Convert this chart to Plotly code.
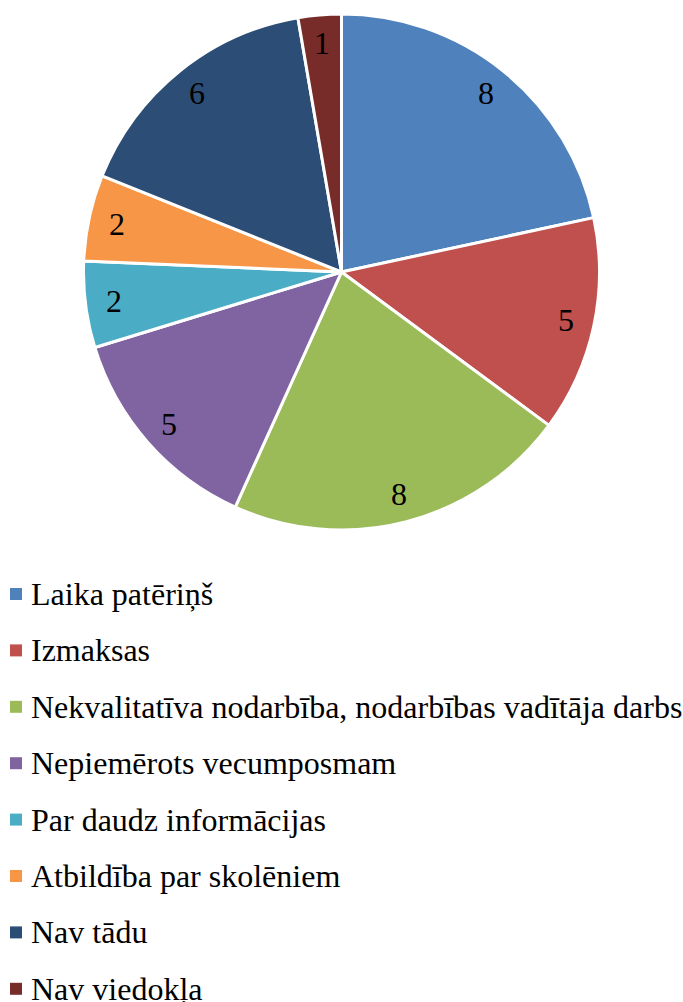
import math
import plotly.graph_objects as go

labels = ["Laika patēriņš", "Izmaksas", "Nekvalitatīva nodarbība, nodarbības vadītāja darbs",
          "Nepiemērots vecumposmam", "Par daudz informācijas", "Atbildība par skolēniem",
          "Nav tādu", "Nav viedokļa"]
values = [8, 5, 8, 5, 2, 2, 6, 1]
colors = ["#4F81BD", "#C0504D", "#9BBB59", "#8064A2", "#4BACC6", "#F79646", "#2C4D75", "#772C2A"]

W, H = 683, 1002
FONT = "Liberation Serif, Times New Roman, serif"
CX, CY, R = 341.5, 272, 258

fig = go.Figure(go.Pie(
    labels=labels, values=values, sort=False, direction="clockwise", rotation=0,
    marker=dict(colors=colors, line=dict(color="white", width=3)),
    textinfo="none",
    domain=dict(x=[0, 1], y=[(H - CY - R) / H, (H - CY + R) / H]),
    showlegend=False, hoverinfo="label+value",
))

# data labels placed near the outer end of each slice (computed from values)
total = sum(values)
cum = 0
for v in values:
    mid = (cum + v / 2) / total * 2 * math.pi
    cum += v
    r = R * 0.89
    x = CX + r * math.sin(mid)
    y = CY - r * math.cos(mid)
    fig.add_annotation(xref="paper", yref="paper", x=x / W, y=1 - y / H,
                       xanchor="center", yanchor="middle", text=str(v), showarrow=False,
                       font=dict(family=FONT, size=32, color="black"))

# legend drawn manually
y0, dy = 594, 56.4
for i, (lab, col) in enumerate(zip(labels, colors)):
    yc = y0 + dy * i
    fig.add_shape(type="rect", xref="paper", yref="paper",
                  x0=10 / W, x1=22 / W, y0=1 - (yc + 6) / H, y1=1 - (yc - 6) / H,
                  fillcolor=col, line=dict(width=0))
    fig.add_annotation(xref="paper", yref="paper", x=29 / W, y=1 - yc / H,
                       xanchor="left", yanchor="middle", text=lab, showarrow=False,
                       font=dict(family=FONT, size=32, color="black"))

fig.update_layout(width=W, height=H, margin=dict(l=0, r=0, t=0, b=0),
                  paper_bgcolor="white", plot_bgcolor="white")
fig.write_html("out.html", config={"displayModeBar": False},
               post_script="document.body.style.margin='0';")
